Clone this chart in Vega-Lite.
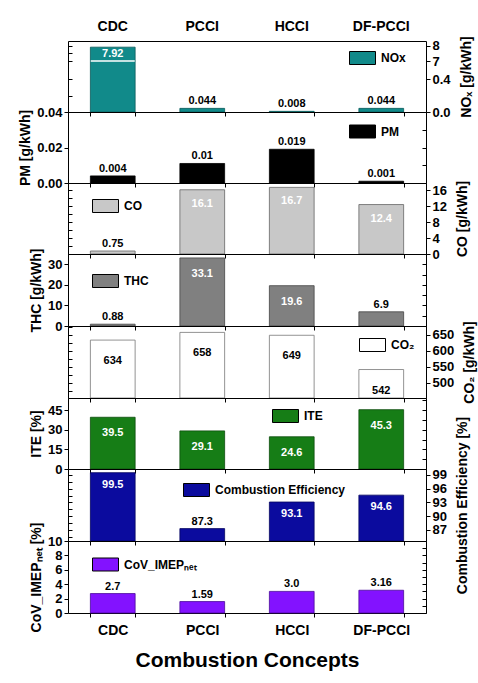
{
  "$schema": "https://vega.github.io/schema/vega-lite/v6.json",
  "padding": {"left": 18, "top": 18, "right": 2, "bottom": 2},
  "bounds": "flush",
  "spacing": 0,
  "resolve": {"scale": {"color": "independent"}, "legend": {"color": "independent"}},
  "config": {
    "font": "Liberation Sans",
    "view": {"stroke": "black", "strokeWidth": 1},
    "axis": {"grid": false, "domain": false, "labelFont": "Liberation Sans", "labelFontWeight": "bold", "labelFontSize": 13, "labelColor": "black", "titleFont": "Liberation Sans", "titleFontWeight": "bold", "titleFontSize": 14, "titleColor": "black", "tickColor": "black", "tickSize": 4, "labelPadding": 2, "titlePadding": 4},
    "axisRight": {"titleAngle": 270, "titleBaseline": "top", "titlePadding": 9},
    "legend": {"orient": "none", "title": null, "padding": 0, "symbolType": "M-1,-0.5H1V0.5H-1Z", "symbolSize": 676, "symbolStrokeColor": "black", "symbolStrokeWidth": 1, "symbolOpacity": 1, "labelFont": "Liberation Sans", "labelFontSize": 12, "labelFontWeight": "bold", "labelColor": "black", "labelOffset": 5},
    "text": {"font": "Liberation Sans", "fontWeight": "bold", "fontSize": 11}
  },
  "datasets": {
    "d": [
      {"concept": "CDC", "metric": "NOx", "value": 7.92, "label": "7.92"},
      {"concept": "PCCI", "metric": "NOx", "value": 0.044, "label": "0.044"},
      {"concept": "HCCI", "metric": "NOx", "value": 0.008, "label": "0.008"},
      {"concept": "DF-PCCI", "metric": "NOx", "value": 0.044, "label": "0.044"},
      {"concept": "CDC", "metric": "PM", "value": 0.004, "label": "0.004"},
      {"concept": "PCCI", "metric": "PM", "value": 0.011, "label": "0.01"},
      {"concept": "HCCI", "metric": "PM", "value": 0.019, "label": "0.019"},
      {"concept": "DF-PCCI", "metric": "PM", "value": 0.001, "label": "0.001"},
      {"concept": "CDC", "metric": "CO", "value": 0.75, "label": "0.75"},
      {"concept": "PCCI", "metric": "CO", "value": 16.1, "label": "16.1"},
      {"concept": "HCCI", "metric": "CO", "value": 16.7, "label": "16.7"},
      {"concept": "DF-PCCI", "metric": "CO", "value": 12.4, "label": "12.4"},
      {"concept": "CDC", "metric": "THC", "value": 0.88, "label": "0.88"},
      {"concept": "PCCI", "metric": "THC", "value": 33.1, "label": "33.1"},
      {"concept": "HCCI", "metric": "THC", "value": 19.6, "label": "19.6"},
      {"concept": "DF-PCCI", "metric": "THC", "value": 6.9, "label": "6.9"},
      {"concept": "CDC", "metric": "CO₂", "value": 634, "label": "634"},
      {"concept": "PCCI", "metric": "CO₂", "value": 658, "label": "658"},
      {"concept": "HCCI", "metric": "CO₂", "value": 649, "label": "649"},
      {"concept": "DF-PCCI", "metric": "CO₂", "value": 542, "label": "542"},
      {"concept": "CDC", "metric": "ITE", "value": 39.5, "label": "39.5"},
      {"concept": "PCCI", "metric": "ITE", "value": 29.1, "label": "29.1"},
      {"concept": "HCCI", "metric": "ITE", "value": 24.6, "label": "24.6"},
      {"concept": "DF-PCCI", "metric": "ITE", "value": 45.3, "label": "45.3"},
      {"concept": "CDC", "metric": "Combustion Efficiency", "value": 99.5, "label": "99.5"},
      {"concept": "PCCI", "metric": "Combustion Efficiency", "value": 87.3, "label": "87.3"},
      {"concept": "HCCI", "metric": "Combustion Efficiency", "value": 93.1, "label": "93.1"},
      {"concept": "DF-PCCI", "metric": "Combustion Efficiency", "value": 94.6, "label": "94.6"},
      {"concept": "CDC", "metric": "CoV_IMEPₙₑₜ", "value": 2.7, "label": "2.7"},
      {"concept": "PCCI", "metric": "CoV_IMEPₙₑₜ", "value": 1.59, "label": "1.59"},
      {"concept": "HCCI", "metric": "CoV_IMEPₙₑₜ", "value": 3.0, "label": "3.0"},
      {"concept": "DF-PCCI", "metric": "CoV_IMEPₙₑₜ", "value": 3.16, "label": "3.16"}
    ]
  },
  "data": {"name": "d"},
  "vconcat": [
    {
      "width": 358, "height": 71,
      "transform": [{"filter": "datum.metric === 'NOx'"}],
      "resolve": {"axis": {"x": "independent", "y": "independent"}},
      "layer": [
        {
          "mark": {"type": "bar", "stroke": "#0b5b5b", "strokeWidth": 0.8},
          "encoding": {
            "x": {"field": "concept", "type": "nominal", "sort": ["CDC", "PCCI", "HCCI", "DF-PCCI"], "scale": {"paddingInner": 0.5, "paddingOuter": 0.25}, "axis": {"orient": "top", "title": null, "ticks": false, "labelAngle": 0, "labelFontSize": 14, "labelPadding": 8}},
            "y": {"field": "value", "type": "quantitative", "scale": {"domain": [0, 0.6, 7, 8.33], "range": [71, 21.5, 20, 0], "nice": false, "zero": false}, "axis": {"orient": "right", "values": [0, 0.4, 7, 8], "labelExpr": "datum.value < 1 ? format(datum.value, '.1f') : format(datum.value, 'd')", "title": "NOₓ [g/kWh]"}},
            "y2": {"datum": 0},
            "color": {"field": "metric", "type": "nominal", "scale": {"range": ["#118a8a"]}, "legend": {"legendX": 281, "legendY": 3.5}}
          }
        },
        {
          "transform": [{"filter": "datum.value > 7"}],
          "mark": {"type": "tick", "color": "white", "thickness": 1.5, "size": 44, "opacity": 1},
          "encoding": {
            "x": {"field": "concept", "type": "nominal", "sort": ["CDC", "PCCI", "HCCI", "DF-PCCI"], "axis": {"orient": "bottom", "labels": false, "title": null, "tickBand": "extent"}},
            "y": {"datum": 7, "type": "quantitative", "axis": {"orient": "left", "labels": false, "title": null, "tickSize": -4, "values": [0, 0.2, 0.4, 7, 7.5, 8]}}
          }
        },
        {
          "transform": [{"filter": "datum.value < 1"}],
          "mark": {"type": "text", "baseline": "bottom", "dy": -2, "color": "black"},
          "encoding": {
            "x": {"field": "concept", "type": "nominal", "sort": ["CDC", "PCCI", "HCCI", "DF-PCCI"], "axis": null},
            "y": {"field": "value", "type": "quantitative", "axis": null},
            "text": {"field": "label"}
          }
        },
        {
          "transform": [{"filter": "datum.value >= 1"}],
          "mark": {"type": "text", "baseline": "middle", "dy": 7, "color": "white"},
          "encoding": {
            "x": {"field": "concept", "type": "nominal", "sort": ["CDC", "PCCI", "HCCI", "DF-PCCI"], "axis": null},
            "y": {"field": "value", "type": "quantitative", "axis": null},
            "text": {"field": "label"}
          }
        }
      ]
    },
    {
      "width": 358, "height": 71,
      "transform": [{"filter": "datum.metric === 'PM'"}],
      "resolve": {"axis": {"x": "independent", "y": "independent"}},
      "layer": [
        {
          "mark": {"type": "bar", "stroke": "black", "strokeWidth": 0.8},
          "encoding": {
            "x": {"field": "concept", "type": "nominal", "sort": ["CDC", "PCCI", "HCCI", "DF-PCCI"], "scale": {"paddingInner": 0.5, "paddingOuter": 0.25}, "axis": {"orient": "bottom", "labels": false, "title": null, "tickBand": "extent"}},
            "y": {"field": "value", "type": "quantitative", "scale": {"domain": [0, 0.04], "nice": false, "zero": false}, "axis": {"orient": "left", "values": [0, 0.02, 0.04], "format": ".2f", "title": "PM [g/kWh]"}},
            "color": {"field": "metric", "type": "nominal", "scale": {"range": ["#000000"]}, "legend": {"legendX": 281, "legendY": 6}}
          }
        },
        {
          "mark": {"type": "text", "baseline": "bottom", "dy": -2, "color": "black"},
          "encoding": {
            "x": {"field": "concept", "type": "nominal", "sort": ["CDC", "PCCI", "HCCI", "DF-PCCI"], "axis": null},
            "y": {"field": "value", "type": "quantitative", "axis": {"orient": "right", "labels": false, "title": null, "tickSize": -4, "values": [0, 0.01, 0.02, 0.03, 0.04]}},
            "text": {"field": "label"}
          }
        }
      ]
    },
    {
      "width": 358, "height": 71,
      "transform": [{"filter": "datum.metric === 'CO'"}],
      "resolve": {"axis": {"x": "independent", "y": "independent"}},
      "layer": [
        {
          "mark": {"type": "bar", "stroke": "#666666", "strokeWidth": 0.8},
          "encoding": {
            "x": {"field": "concept", "type": "nominal", "sort": ["CDC", "PCCI", "HCCI", "DF-PCCI"], "scale": {"paddingInner": 0.5, "paddingOuter": 0.25}, "axis": {"orient": "bottom", "labels": false, "title": null, "tickBand": "extent"}},
            "y": {"field": "value", "type": "quantitative", "scale": {"domain": [0, 17.8], "nice": false, "zero": false}, "axis": {"orient": "right", "values": [0, 4, 8, 12, 16], "title": "CO [g/kWh]"}},
            "color": {"field": "metric", "type": "nominal", "scale": {"range": ["#c8c8c8"]}, "legend": {"legendX": 24, "legendY": 9.5}}
          }
        },
        {
          "transform": [{"filter": "datum.value < 5"}],
          "mark": {"type": "text", "baseline": "bottom", "dy": -2, "color": "black"},
          "encoding": {
            "x": {"field": "concept", "type": "nominal", "sort": ["CDC", "PCCI", "HCCI", "DF-PCCI"], "axis": null},
            "y": {"field": "value", "type": "quantitative", "axis": {"orient": "left", "labels": false, "title": null, "tickSize": -4, "values": [0, 2, 4, 6, 8, 10, 12, 14, 16]}},
            "text": {"field": "label"}
          }
        },
        {
          "transform": [{"filter": "datum.value >= 5"}],
          "mark": {"type": "text", "baseline": "middle", "dy": 14, "color": "white"},
          "encoding": {
            "x": {"field": "concept", "type": "nominal", "sort": ["CDC", "PCCI", "HCCI", "DF-PCCI"], "axis": null},
            "y": {"field": "value", "type": "quantitative", "axis": null},
            "text": {"field": "label"}
          }
        }
      ]
    },
    {
      "width": 358, "height": 72,
      "transform": [{"filter": "datum.metric === 'THC'"}],
      "resolve": {"axis": {"x": "independent", "y": "independent"}},
      "layer": [
        {
          "mark": {"type": "bar", "stroke": "#444444", "strokeWidth": 0.8},
          "encoding": {
            "x": {"field": "concept", "type": "nominal", "sort": ["CDC", "PCCI", "HCCI", "DF-PCCI"], "scale": {"paddingInner": 0.5, "paddingOuter": 0.25}, "axis": {"orient": "bottom", "labels": false, "title": null, "tickBand": "extent"}},
            "y": {"field": "value", "type": "quantitative", "scale": {"domain": [0, 35], "nice": false, "zero": false}, "axis": {"orient": "left", "values": [0, 10, 20, 30], "title": "THC [g/kWh]"}},
            "color": {"field": "metric", "type": "nominal", "scale": {"range": ["#808080"]}, "legend": {"legendX": 24, "legendY": 13.5}}
          }
        },
        {
          "transform": [{"filter": "datum.value < 10"}],
          "mark": {"type": "text", "baseline": "bottom", "dy": -2, "color": "black"},
          "encoding": {
            "x": {"field": "concept", "type": "nominal", "sort": ["CDC", "PCCI", "HCCI", "DF-PCCI"], "axis": null},
            "y": {"field": "value", "type": "quantitative", "axis": {"orient": "right", "labels": false, "title": null, "tickSize": -4, "values": [0, 5, 10, 15, 20, 25, 30, 35]}},
            "text": {"field": "label"}
          }
        },
        {
          "transform": [{"filter": "datum.value >= 10"}],
          "mark": {"type": "text", "baseline": "middle", "dy": 16, "color": "white"},
          "encoding": {
            "x": {"field": "concept", "type": "nominal", "sort": ["CDC", "PCCI", "HCCI", "DF-PCCI"], "axis": null},
            "y": {"field": "value", "type": "quantitative", "axis": null},
            "text": {"field": "label"}
          }
        }
      ]
    },
    {
      "width": 358, "height": 72,
      "transform": [{"filter": "datum.metric === 'CO₂'"}],
      "resolve": {"axis": {"x": "independent", "y": "independent"}},
      "layer": [
        {
          "mark": {"type": "bar", "stroke": "#777777", "strokeWidth": 0.8},
          "encoding": {
            "x": {"field": "concept", "type": "nominal", "sort": ["CDC", "PCCI", "HCCI", "DF-PCCI"], "scale": {"paddingInner": 0.5, "paddingOuter": 0.25}, "axis": {"orient": "bottom", "labels": false, "title": null, "tickBand": "extent"}},
            "y": {"field": "value", "type": "quantitative", "scale": {"domain": [453, 678], "nice": false, "zero": false}, "axis": {"orient": "right", "values": [500, 550, 600, 650], "title": "CO₂ [g/kWh]"}},
            "y2": {"datum": 453},
            "color": {"field": "metric", "type": "nominal", "scale": {"range": ["#ffffff"]}, "legend": {"legendX": 291, "legendY": 5.5}}
          }
        },
        {
          "mark": {"type": "text", "baseline": "middle", "dy": 21, "color": "black"},
          "encoding": {
            "x": {"field": "concept", "type": "nominal", "sort": ["CDC", "PCCI", "HCCI", "DF-PCCI"], "axis": null},
            "y": {"field": "value", "type": "quantitative", "axis": {"orient": "left", "labels": false, "title": null, "tickSize": -4, "values": [475, 500, 525, 550, 575, 600, 625, 650, 675]}},
            "text": {"field": "label"}
          }
        }
      ]
    },
    {
      "width": 358, "height": 71,
      "transform": [{"filter": "datum.metric === 'ITE'"}],
      "resolve": {"axis": {"x": "independent", "y": "independent"}},
      "layer": [
        {
          "mark": {"type": "bar", "stroke": "#0d4d0d", "strokeWidth": 0.8},
          "encoding": {
            "x": {"field": "concept", "type": "nominal", "sort": ["CDC", "PCCI", "HCCI", "DF-PCCI"], "scale": {"paddingInner": 0.5, "paddingOuter": 0.25}, "axis": {"orient": "bottom", "labels": false, "title": null, "tickBand": "extent"}},
            "y": {"field": "value", "type": "quantitative", "scale": {"domain": [0, 54.2], "nice": false, "zero": false}, "axis": {"orient": "left", "values": [0, 15, 30, 45], "title": "ITE [%]"}},
            "color": {"field": "metric", "type": "nominal", "scale": {"range": ["#167d16"]}, "legend": {"legendX": 204, "legendY": 4.5}}
          }
        },
        {
          "mark": {"type": "text", "baseline": "middle", "dy": 16, "color": "white"},
          "encoding": {
            "x": {"field": "concept", "type": "nominal", "sort": ["CDC", "PCCI", "HCCI", "DF-PCCI"], "axis": null},
            "y": {"field": "value", "type": "quantitative", "axis": {"orient": "right", "labels": false, "title": null, "tickSize": -4, "values": [0, 7.5, 15, 22.5, 30, 37.5, 45, 52.5]}},
            "text": {"field": "label"}
          }
        }
      ]
    },
    {
      "width": 358, "height": 72,
      "transform": [{"filter": "datum.metric === 'Combustion Efficiency'"}],
      "resolve": {"axis": {"x": "independent", "y": "independent"}},
      "layer": [
        {
          "mark": {"type": "bar", "stroke": "#050560", "strokeWidth": 0.8},
          "encoding": {
            "x": {"field": "concept", "type": "nominal", "sort": ["CDC", "PCCI", "HCCI", "DF-PCCI"], "scale": {"paddingInner": 0.5, "paddingOuter": 0.25}, "axis": {"orient": "bottom", "labels": false, "title": null, "tickBand": "extent"}},
            "y": {"field": "value", "type": "quantitative", "scale": {"domain": [84.6, 100.3], "nice": false, "zero": false}, "axis": {"orient": "right", "values": [87, 90, 93, 96, 99], "title": "Combustion Efficiency [%]"}},
            "y2": {"datum": 84.6},
            "color": {"field": "metric", "type": "nominal", "scale": {"range": ["#0b0b9e"]}, "legend": {"legendX": 115, "legendY": 7.5}}
          }
        },
        {
          "transform": [{"filter": "datum.value < 90"}],
          "mark": {"type": "text", "baseline": "bottom", "dy": -2, "color": "black"},
          "encoding": {
            "x": {"field": "concept", "type": "nominal", "sort": ["CDC", "PCCI", "HCCI", "DF-PCCI"], "axis": null},
            "y": {"field": "value", "type": "quantitative", "axis": {"orient": "left", "labels": false, "title": null, "tickSize": -4, "values": [85.5, 87, 88.5, 90, 91.5, 93, 94.5, 96, 97.5, 99]}},
            "text": {"field": "label"}
          }
        },
        {
          "transform": [{"filter": "datum.value >= 90"}],
          "mark": {"type": "text", "baseline": "middle", "dy": 12, "color": "white"},
          "encoding": {
            "x": {"field": "concept", "type": "nominal", "sort": ["CDC", "PCCI", "HCCI", "DF-PCCI"], "axis": null},
            "y": {"field": "value", "type": "quantitative", "axis": null},
            "text": {"field": "label"}
          }
        }
      ]
    },
    {
      "width": 358, "height": 72,
      "transform": [{"filter": "datum.metric === 'CoV_IMEPₙₑₜ'"}],
      "resolve": {"axis": {"x": "independent", "y": "independent"}},
      "layer": [
        {
          "mark": {"type": "bar", "stroke": "#4a0a99", "strokeWidth": 0.8},
          "encoding": {
            "x": {"field": "concept", "type": "nominal", "sort": ["CDC", "PCCI", "HCCI", "DF-PCCI"], "scale": {"paddingInner": 0.5, "paddingOuter": 0.25}, "axis": {"orient": "bottom", "title": "Combustion Concepts", "labelAngle": 0, "labelFontSize": 14, "labelPadding": 6, "tickBand": "extent", "titleFontSize": 21, "titlePadding": 12}},
            "y": {"field": "value", "type": "quantitative", "scale": {"domain": [0, 10], "nice": false, "zero": false}, "axis": {"orient": "left", "values": [0, 2, 4, 6, 8, 10], "title": "CoV_IMEPₙₑₜ [%]"}},
            "color": {"field": "metric", "type": "nominal", "scale": {"range": ["#8312ff"]}, "legend": {"legendX": 24, "legendY": 10}}
          }
        },
        {
          "mark": {"type": "text", "baseline": "bottom", "dy": -2, "color": "black"},
          "encoding": {
            "x": {"field": "concept", "type": "nominal", "sort": ["CDC", "PCCI", "HCCI", "DF-PCCI"], "axis": null},
            "y": {"field": "value", "type": "quantitative", "axis": {"orient": "right", "labels": false, "title": null, "tickSize": -4, "values": [0, 1, 2, 3, 4, 5, 6, 7, 8, 9, 10]}},
            "text": {"field": "label"}
          }
        }
      ]
    }
  ]
}
